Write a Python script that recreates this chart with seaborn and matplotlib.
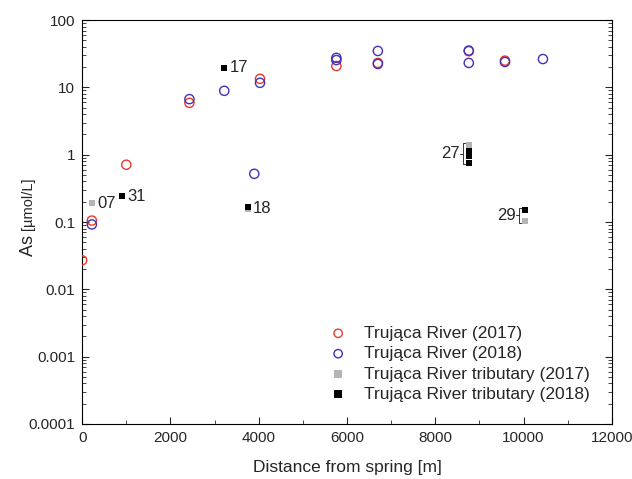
import matplotlib
matplotlib.use('Agg')
import matplotlib.pyplot as plt
import matplotlib.ticker as mticker
import numpy as np
import seaborn as sns

sns.set_style('ticks')
plt.rcParams['font.family'] = ['Liberation Sans', 'DejaVu Sans']
plt.rcParams['font.size'] = 11

# ---- data ----
river17_x = [0, 220, 1000, 2430, 4030, 5760, 6700, 8760, 9580]
river17_y = [0.027, 0.105, 0.71, 5.9, 13.4, 20.8, 23.1, 34.5, 25.0]

river18_x = [220, 2430, 3220, 3900, 4030, 5760, 5760, 6700, 6700, 8760, 8760, 9580, 10440]
river18_y = [0.092, 6.7, 8.9, 0.52, 11.7, 27.5, 25.5, 34.8, 22.3, 35.3, 23.1, 23.9, 26.4]

trib17_x = [220, 3750, 8760, 10030]
trib17_y = [0.19, 0.155, 1.4, 0.102]

trib18_x = [900, 3220, 3750, 8760, 8760, 8760, 10030]
trib18_y = [0.24, 19.5, 0.165, 1.12, 0.95, 0.75, 0.153]

# point labels (x, y, text)
point_labels = [(220, 0.19, '07'), (900, 0.24, '31'), (3220, 19.5, '17'), (3750, 0.16, '18')]

red = '#e8392b'
blue = '#4232b8'
grey = '#b4b4b4'

fig, ax = plt.subplots(figsize=(6.32, 4.79), dpi=100)
fig.subplots_adjust(left=0.130, right=0.968, top=0.958, bottom=0.115)

sns.scatterplot(x=river17_x, y=river17_y, ax=ax, marker='o', s=44,
                facecolor='none', edgecolor=red, linewidth=1.0,
                label='Trująca River (2017)', zorder=3)
sns.scatterplot(x=river18_x, y=river18_y, ax=ax, marker='o', s=44,
                facecolor='none', edgecolor=blue, linewidth=1.0,
                label='Trująca River (2018)', zorder=3)
sns.scatterplot(x=trib17_x, y=trib17_y, ax=ax, marker='s', s=20,
                color=grey, linewidth=0, label='Trująca River tributary (2017)', zorder=3)
sns.scatterplot(x=trib18_x, y=trib18_y, ax=ax, marker='s', s=20,
                color='black', linewidth=0, label='Trująca River tributary (2018)', zorder=4)

for x, y, t in point_labels:
    ax.annotate(t, (x, y), xytext=(4, 0), textcoords='offset points',
                ha='left', va='center', fontsize=12)

# brackets for grouped samples
def bracket(xc, ylo, yhi, text):
    xb = xc - 130
    ax.plot([xc - 60, xb, xb, xc - 60], [yhi, yhi, ylo, ylo], color='#333333', lw=0.7)
    ym = np.sqrt(ylo * yhi)
    ax.plot([xb, xb - 70], [ym, ym], color='#333333', lw=0.7)
    ax.text(xb - 75, ym, text, ha='right', va='center', fontsize=12)

bracket(8760, 0.72, 1.47, '27')
bracket(10030, 0.098, 0.16, '29')

ax.set_yscale('log')
ax.set_xlim(0, 12000)
ax.set_ylim(0.0001, 100)
ax.xaxis.set_major_locator(mticker.MultipleLocator(2000))
ax.xaxis.set_minor_locator(mticker.MultipleLocator(1000))
ax.yaxis.set_major_locator(mticker.LogLocator(base=10, numticks=10))
ax.yaxis.set_minor_locator(mticker.LogLocator(base=10, subs=np.arange(2, 10), numticks=10))
ax.yaxis.set_major_formatter(mticker.FuncFormatter(lambda v, p: '%g' % v))
ax.yaxis.set_minor_formatter(mticker.NullFormatter())
ax.tick_params(which='both', direction='in', right=True, top=False, labelsize=11)
ax.tick_params(which='major', length=5, width=0.8, pad=5)
ax.tick_params(which='minor', length=3, width=0.6)
for sp in ax.spines.values():
    sp.set_linewidth(0.8)
    sp.set_color('black')

ax.set_xlabel('Distance from spring [m]', fontsize=12.5, labelpad=11)
ax.yaxis.label.set_visible(False)

# y label: "As" larger, unit part smaller
fig.canvas.draw()
renderer = fig.canvas.get_renderer()
ylab_x = 0.045
t1 = fig.text(ylab_x, 0.0, 'As ', fontsize=13, rotation=90,
              rotation_mode='anchor', ha='left', va='center')
t2 = fig.text(ylab_x, 0.0, '[µmol/L]', fontsize=10.5, rotation=90,
              rotation_mode='anchor', ha='left', va='center')
h1 = t1.get_window_extent(renderer).height / fig.bbox.height
h2 = t2.get_window_extent(renderer).height / fig.bbox.height
y0 = 0.115 + (0.958 - 0.115) / 2 - (h1 + h2) / 2 + 0.01
t1.set_y(y0)
t2.set_y(y0 + h1)

leg = ax.legend(loc='lower right', bbox_to_anchor=(0.985, 0.02), frameon=False,
                fontsize=12.5, handletextpad=0.5, labelspacing=0.3, borderpad=0.3)
for h, sz in zip(leg.legend_handles, [36, 36, 28, 28]):
    h.set_sizes([sz])

fig.savefig('out.png', dpi=100)
